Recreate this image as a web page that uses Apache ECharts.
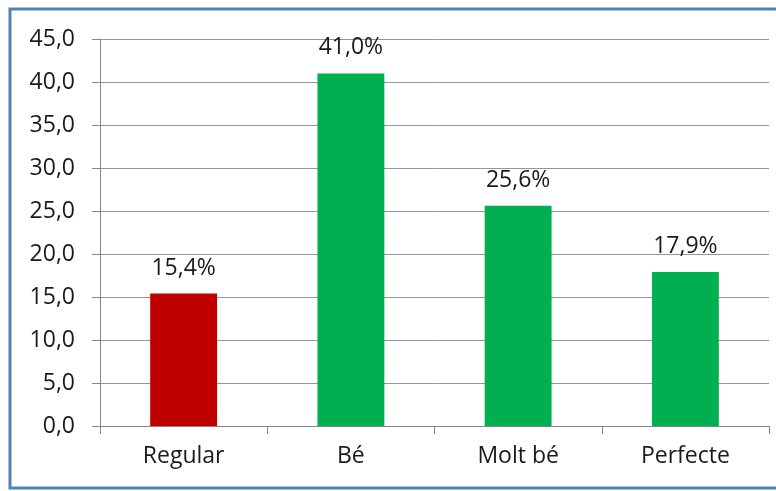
<!DOCTYPE html>
<html>
<head>
<meta charset="utf-8">
<script src="https://cdn.jsdelivr.net/npm/echarts@6/dist/echarts.min.js"></script>
<style>
html,body{margin:0;padding:0;background:#fff;}
#c{width:776px;height:491px;}
</style>
</head>
<body>
<div id="c"></div>
<script>
const categories = ['Regular', 'Bé', 'Molt bé', 'Perfecte'];
const values = [15.4, 41.0, 25.6, 17.9];
const barColors = ['#C00000', '#00B050', '#00B050', '#00B050'];
const yTicks = [0, 5, 10, 15, 20, 25, 30, 35, 40, 45];

const chart = echarts.init(document.getElementById('c'), null, {renderer: 'canvas'});
const fontFamily = 'Open Sans';
chart.setOption({
  animation: false,
  backgroundColor: '#fff',
  graphic: [{
    type: 'rect',
    shape: {x: 10, y: 9, width: 800, height: 479},
    style: {fill: 'none', stroke: '#4F81BD', lineWidth: 3},
    silent: true,
    z: 100
  }],
  grid: {left: 100, right: 7, top: 39, bottom: 65},
  xAxis: {
    type: 'category',
    data: categories,
    axisLine: {show: true, lineStyle: {color: '#868686', width: 1}},
    axisTick: {show: true, alignWithLabel: false, length: 8, lineStyle: {color: '#868686'}},
    axisLabel: {color: '#1a1a1a', fontFamily: fontFamily, fontSize: 23, margin: 19}
  },
  yAxis: {
    type: 'value',
    min: yTicks[0],
    max: yTicks[yTicks.length - 1],
    interval: 5,
    axisLine: {show: true, lineStyle: {color: '#868686', width: 1}},
    axisTick: {show: true, length: 8, lineStyle: {color: '#868686'}},
    splitLine: {show: true, lineStyle: {color: '#969696', width: 1}},
    axisLabel: {
      color: '#1a1a1a', fontFamily: fontFamily, fontSize: 23, margin: 25,
      formatter: v => v.toFixed(1).replace('.', ',')
    }
  },
  series: [{
    type: 'bar',
    data: values.map((v, i) => ({value: v, itemStyle: {color: barColors[i]}})),
    barWidth: '40%',
    label: {
      show: true,
      position: 'top',
      distance: 14,
      color: '#1a1a1a',
      fontFamily: fontFamily,
      fontSize: 23,
      formatter: p => p.value.toFixed(1).replace('.', ',') + '%'
    }
  }]
});
</script>
</body>
</html>
